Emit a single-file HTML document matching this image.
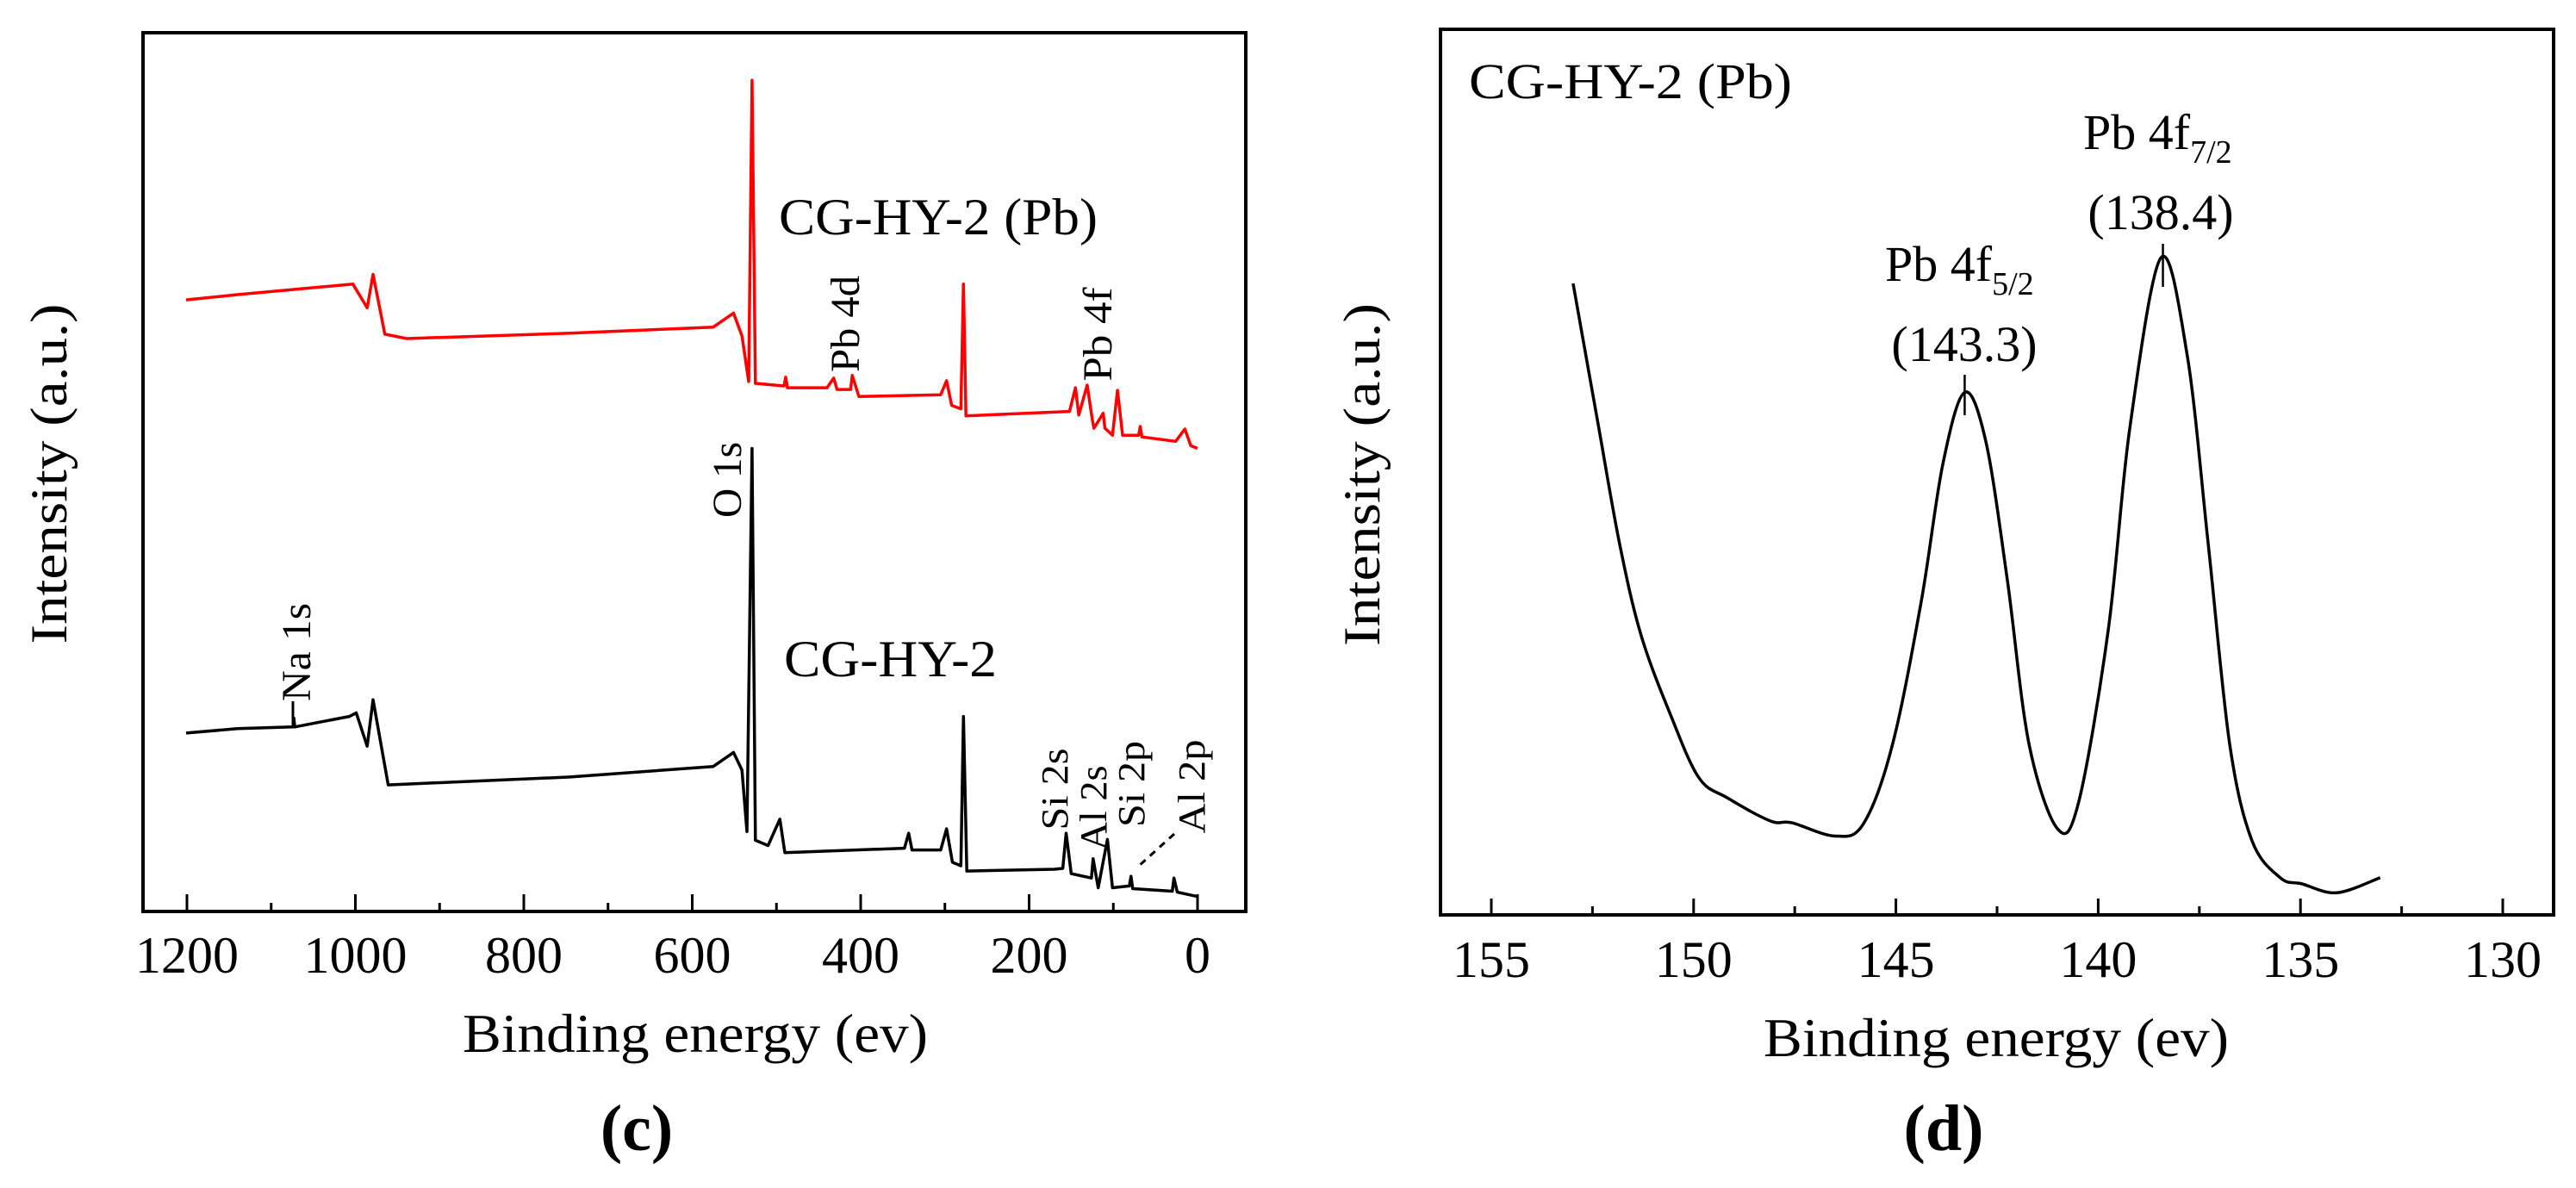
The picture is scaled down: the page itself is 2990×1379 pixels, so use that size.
<!DOCTYPE html>
<html><head><meta charset="utf-8"><style>
html,body{margin:0;padding:0;background:#fff;}
svg{display:block;}
text{font-family:"Liberation Serif","DejaVu Serif",serif;fill:#000;}
</style></head><body>
<svg id="fig" width="2990" height="1379" viewBox="0 0 2990 1379" xmlns="http://www.w3.org/2000/svg">
<g id="left"></g>
<g id="right"></g>
</svg>
<script>
// ---- Panel (c) data ----
const surveyTicks = [1200, 1000, 800, 600, 400, 200, 0];
const surveyMinor = [1100, 900, 700, 500, 300, 100];
const redEv = [1201,1140,1083,1003,986,979,965,939,745,575,551,541,533,529,525,491,489,487,440,432,428,412,410,402,305,298,292,281,278,275,152,145,141,131,125,123,112,110,101,95,89,70,68,66,26,15,8,0];
const redI  = [69.6,70.2,70.7,71.4,68.7,72.5,65.7,65.2,65.8,66.5,68.1,65.5,60.3,94.6,60.1,59.8,60.8,59.6,59.6,60.7,59.4,59.4,61.0,58.6,58.8,60.4,57.6,57.2,71.4,56.4,56.9,59.6,56.5,59.9,56,55.0,56.7,55,54.2,59.3,54.2,54.2,55.2,54,53.5,54.9,53.0,52.7];
const blackEv = [1201,1140,1074,1073,1072,1007,999,986,979,961,745,575,551,541,535,529,525,510,496,490,348,343,339,305,298,291,281,278,274,170,160,156,150,126,124,118,107,101,81,79,77,30,28,24,0];
const blackI  = [20.3,20.8,21.0,22.0,21.0,22.2,22.6,18.8,24.1,14.4,15.3,16.5,18.1,16.1,9.1,52.7,8.1,7.5,10.5,6.7,7.2,8.9,7.0,7.0,9.4,5.6,5.2,22.2,4.6,4.8,4.9,8.9,4.3,3.8,6.0,2.7,8.2,2.7,2.9,4.0,2.6,2.3,3.8,2.2,1.7];
// ---- Panel (d) data ----
const pbTicks = [155, 150, 145, 140, 135, 130];
const pbMinor = [152.5, 147.5, 142.5, 137.5, 132.5];
const pbEv = [152.98,152.36,151.83,151.3,150.57,149.87,149.16,148.1,147.57,146.5,145.8,145.08,144.37,143.84,143.3,142.78,142.25,141.71,141.0,140.48,139.75,139.22,138.45,137.8,137.28,136.75,136.2,135.5,134.96,134.1,133.03];
const pbI  = [71.3,55.4,41.9,31.6,22.6,15.5,13.2,10.6,10.4,8.9,10.3,19.3,35.5,50.9,59.0,53.5,38.0,19.3,9.7,12.8,32.2,54.9,74.2,63.2,41.9,19.3,8.4,4.2,3.5,2.5,4.2];

const NS = "http://www.w3.org/2000/svg";
function mk(parent, tag, attrs, txt){
  const e = document.createElementNS(NS, tag);
  for (const k in attrs) e.setAttribute(k, attrs[k]);
  if (txt !== undefined) e.textContent = txt;
  parent.appendChild(e); return e;
}
const L = document.getElementById('left');
const R = document.getElementById('right');

// scales
const lx = e => 1390 - e * 0.9775;
const ly = v => 1058 - v * 10.2;
const rx = e => 1731 + (155 - e) * 46.96;
const ry = v => 1062 - v * 10.28;

// ---------- Left panel ----------
let box = mk(L, 'rect', {x:166, y:38, width:1280, height:1020, fill:'none', stroke:'#000', 'stroke-width':4});


surveyTicks.forEach(t => {
  const tk = mk(L, 'line', {x1:lx(t), x2:lx(t), y1:1058, y2:1038, stroke:'#000', 'stroke-width':3});
  
  
  const lb = mk(L, 'text', {x:lx(t), y:1129, 'font-size':60, 'text-anchor':'middle'}, String(t));
  
  
});
surveyMinor.forEach(t => {
  const tk = mk(L, 'line', {x1:lx(t), x2:lx(t), y1:1058, y2:1048, stroke:'#000', 'stroke-width':3});
  
  
});
function poly(parent, xs, ys, fx, fy, color, name, w){
  const pts = xs.map((e,i)=> fx(e).toFixed(1)+','+fy(ys[i]).toFixed(1)).join(' ');
  const p = mk(parent, 'polyline', {points:pts, fill:'none', stroke:color, 'stroke-width':w, 'stroke-linejoin':'round'});
  
  
}
poly(L, redEv, redI, lx, ly, '#f00', 'series-cg-hy-2-pb', 3.5);
poly(L, blackEv, blackI, lx, ly, '#000', 'series-cg-hy-2', 3.5);

// left labels
function txt(parent, x, y, size, s, name, opts){
  const a = Object.assign({x:x, y:y, 'font-size':size}, opts||{});
  const t = mk(parent, 'text', a, s);
  
  
  return t;
}
function vtxt(parent, cx, cy, size, s, name, len){
  const a = {x:0, y:0, 'font-size':size, 'text-anchor':'middle', transform:`translate(${cx},${cy}) rotate(-90)`};
  if (len) { a.textLength = len; a.lengthAdjust = 'spacingAndGlyphs'; }
  const t = mk(parent, 'text', a, s);
  
  
  return t;
}
txt(L, 904, 272, 60, 'CG-HY-2 (Pb)', 'label-cg-hy-2-pb', {textLength:370, lengthAdjust:'spacingAndGlyphs'});
txt(L, 910, 785, 60, 'CG-HY-2', 'label-cg-hy-2', {textLength:247, lengthAdjust:'spacingAndGlyphs'});
vtxt(L, 997, 376, 48, 'Pb 4d', 'peak-label-pb-4d', 112);
vtxt(L, 1290, 388, 48, 'Pb 4f', 'peak-label-pb-4f', 109);
vtxt(L, 860, 557, 48, 'O 1s', 'peak-label-o-1s', 88);
vtxt(L, 360, 757, 48, 'Na 1s', 'peak-label-na-1s', 114);
vtxt(L, 1239, 916, 44, 'Si 2s', 'peak-label-si-2s', 95);
vtxt(L, 1284, 938, 44, 'Al 2s', 'peak-label-al-2s', 99);
vtxt(L, 1328, 910, 44, 'Si 2p', 'peak-label-si-2p', 100);
vtxt(L, 1398, 913, 44, 'Al 2p', 'peak-label-al-2p', 109);
let ln = mk(L, 'line', {x1:340, x2:340, y1:814, y2:842, stroke:'#000', 'stroke-width':3});


ln = mk(L, 'line', {x1:1363, y1:968, x2:1322, y2:1005, stroke:'#000', 'stroke-width':3, 'stroke-dasharray':'8,7'});


vtxt(L, 77, 550, 60, 'Intensity (a.u.)', 'y-axis-title-left', 395);
txt(L, 807, 1221, 64, 'Binding energy (ev)', 'x-axis-title-left', {'text-anchor':'middle', textLength:540, lengthAdjust:'spacingAndGlyphs'});
txt(L, 739, 1335, 76, '(c)', 'panel-label-c', {'text-anchor':'middle', 'font-weight':'bold'});

// ---------- Right panel ----------
box = mk(R, 'rect', {x:1672, y:34, width:1292, height:1028, fill:'none', stroke:'#000', 'stroke-width':4});


pbTicks.forEach(t => {
  const tk = mk(R, 'line', {x1:rx(t), x2:rx(t), y1:1062, y2:1043, stroke:'#000', 'stroke-width':3});
  
  
  const lb = mk(R, 'text', {x:rx(t), y:1134, 'font-size':60, 'text-anchor':'middle'}, String(t));
  
  
});
pbMinor.forEach(t => {
  const tk = mk(R, 'line', {x1:rx(t), x2:rx(t), y1:1062, y2:1052, stroke:'#000', 'stroke-width':3});
  
  
});
// smooth curve via Catmull-Rom
(function(){
  const P = pbEv.map((e,i)=>[rx(e), ry(pbI[i])]);
  let d = `M${P[0][0].toFixed(1)},${P[0][1].toFixed(1)}`;
  for (let i=0;i<P.length-1;i++){
    const p0=P[Math.max(0,i-1)], p1=P[i], p2=P[i+1], p3=P[Math.min(P.length-1,i+2)];
    const c1=[p1[0]+(p2[0]-p0[0])/6, p1[1]+(p2[1]-p0[1])/6];
    const c2=[p2[0]-(p3[0]-p1[0])/6, p2[1]-(p3[1]-p1[1])/6];
    d += ` C${c1[0].toFixed(1)},${c1[1].toFixed(1)} ${c2[0].toFixed(1)},${c2[1].toFixed(1)} ${p2[0].toFixed(1)},${p2[1].toFixed(1)}`;
  }
  const p = mk(R, 'path', {d:d, fill:'none', stroke:'#000', 'stroke-width':3.5});
  
  
})();
txt(R, 1705, 114, 58, 'CG-HY-2 (Pb)', 'panel-title-d', {textLength:375, lengthAdjust:'spacingAndGlyphs'});
let t1 = txt(R, 2418, 173, 58, 'Pb 4f', 'peak-label-pb-4f72');
mk(t1, 'tspan', {'font-size':38, dy:16}, '7/2');
txt(R, 2508, 266, 58, '(138.4)', 'peak-value-138-4', {'text-anchor':'middle'});
let t2 = txt(R, 2188, 326, 58, 'Pb 4f', 'peak-label-pb-4f52');
mk(t2, 'tspan', {'font-size':38, dy:16}, '5/2');
txt(R, 2280, 419, 58, '(143.3)', 'peak-value-143-3', {'text-anchor':'middle'});
ln = mk(R, 'line', {x1:rx(138.4), x2:rx(138.4), y1:283, y2:333, stroke:'#000', 'stroke-width':2.5});


ln = mk(R, 'line', {x1:rx(143.3), x2:rx(143.3), y1:435, y2:482, stroke:'#000', 'stroke-width':2.5});


vtxt(R, 1601, 551, 60, 'Intensity (a.u.)', 'y-axis-title-right', 398);
txt(R, 2317, 1226, 64, 'Binding energy (ev)', 'x-axis-title-right', {'text-anchor':'middle', textLength:540, lengthAdjust:'spacingAndGlyphs'});
txt(R, 2256, 1335, 76, '(d)', 'panel-label-d', {'text-anchor':'middle', 'font-weight':'bold'});
</script>
</body></html>
